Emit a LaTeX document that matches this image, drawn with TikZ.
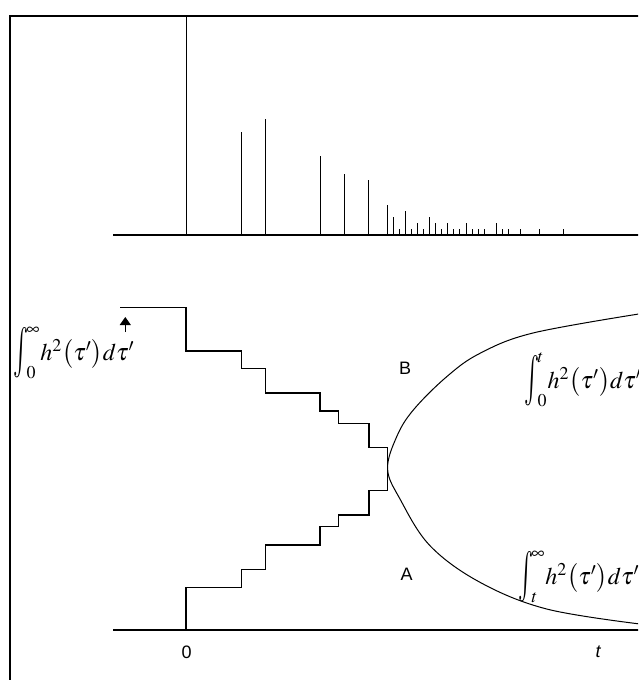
\documentclass[tikz,border=0pt]{standalone}
\usepackage{mathptmx}
\usepackage[no-math]{fontspec}
\setmainfont{Liberation Sans}
\usetikzlibrary{arrows.meta}
\newcommand\bigint{\mathop{\raisebox{-0.22em}{\scalebox{1.05}[2.1]{$\textstyle\int$}}\kern-0.08em}\nolimits}
\tikzset{
  frameline/.style={line width=1pt},
  axisline/.style={line width=0.55pt},
  spike/.style={line width=0.5pt},
  stairline/.style={line width=0.55pt},
  curveline/.style={line width=0.5pt},
  sanslabel/.style={inner sep=0pt,font=\fontsize{9}{11}\selectfont},
  mathlabel/.style={inner sep=0pt,anchor=base west,font=\fontsize{12}{15}\selectfont},
}
\begin{document}
\begin{tikzpicture}[x=0.5pt,y=-0.5pt]
\useasboundingbox (0,0) rectangle (638,680);
\clip (0,0) rectangle (638,680);
% frame
\draw[frameline] (10,680) -- (10,16) -- (640,16);
% top plot: baseline and spikes
\draw[axisline] (113,235) -- (640,235);
\foreach \x/\y in {186/16,241.7/131.7,265.7/119.3,320/156,344.3/174,368.7/180.3,
  387.3/204.5,393/217,399.3/229,405.3/211,411.3/229,417.7/223,423.7/229,
  429.7/217,435.7/223,441.7/229,447.7/223,453.7/229,459.7/229,466/223,
  472/229,478/229,484.3/229,496.3/223,502.3/229,508.3/229,520.7/229,
  539/229,563.3/229}
  \draw[spike] (\x,235) -- (\x,\y);
% lower plot axis
\draw[axisline] (113,630) -- (640,630);
% staircases
\draw[stairline] (120,307.5) -- (186,307.5) -- (186,351) -- (241.7,351) -- (241.7,368.5)
  -- (265.7,368.5) -- (265.7,393) -- (320,393) -- (320,411) -- (338.3,411)
  -- (338.3,423.3) -- (369,423.3) -- (369,447.3) -- (387.3,447.3) -- (387.3,490.7);
\draw[stairline] (186,630) -- (186,587.3) -- (241.7,587.3) -- (241.7,569.3)
  -- (265.7,569.3) -- (265.7,545) -- (320,545) -- (320,526.7) -- (338.3,526.7)
  -- (338.3,515) -- (369,515) -- (369,490.7) -- (387.3,490.7);
% arrow
\coordinate (arrS) at (125.3,332);
\coordinate (arrT) at (125.3,317);
\draw[line width=0.5pt,-{Triangle[length=4pt,width=5.5pt]}] (arrS) -- (arrT);
% curve
\draw[curveline] plot[smooth,tension=0.6] coordinates {
  (640,313.8) (533,333) (480,353.3) (446.7,376.7) (413.3,410)
  (396.7,436.7) (387.6,469) (400,499)
  (430,545.7) (480,582.3) (546.7,609) (640,624)};
% labels
\node[sanslabel] (lblB) at (405,368.3) {B};
\node[sanslabel] (lblA) at (406.7,574) {A};
\node[sanslabel] (lbl0) at (186.7,652.3) {0};
\node[sanslabel] (lblt) at (598,652) {\itshape t};
\node[mathlabel] (int1) at (13,360) {$\bigint_0^\infty\! h^2\bigl(\tau'\bigr)d\tau'$};
\node[mathlabel] (int2) at (524,388) {$\bigint_0^t\! h^2\bigl(\tau'\bigr)d\tau'$};
\node[mathlabel] (int3) at (518,584) {$\bigint_t^\infty\! h^2\bigl(\tau'\bigr)d\tau'$};
\end{tikzpicture}
\end{document}
